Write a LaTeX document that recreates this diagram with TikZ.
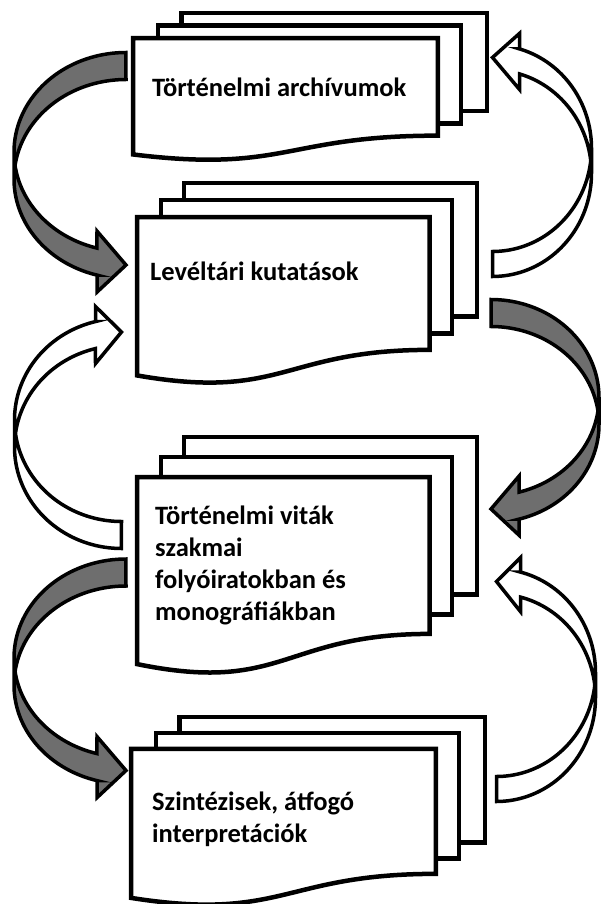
\documentclass[tikz,border=0pt]{standalone}
\usepackage{fontspec}
\setmainfont{Carlito}

% stack of three sheets: front sheet with a wavy lower edge
\newcommand{\multidoc}[4]{% #1,#2 top-left corner, #3 width, #4 height
  \begin{scope}[shift={(#1,#2)},xscale=#3,yscale=#4]
    \path[sheet] (0.13759,0) rectangle (1,0.66630);
    \path[sheet] (0.07093,0.08403) rectangle (0.92593,0.75241);
    \path[sheet] (0,0.96213) .. controls (0.43046,1.08991) and (0.43046,0.83435) .. (0.86088,0.83435)
      -- (0.86088,0.17014) -- (0,0.17014) -- cycle;
  \end{scope}}

% broad curved arrow: tail at top right, head at bottom right pointing right
\newcommand{\curvedarrow}[8]{% #1 centre, #2 flips, #3 width, #4 height, #5 band, #6 head width, #7 head length, #8 style
  \begin{scope}[shift={#1},#2]
    \pgfmathsetmacro\cvW{#3}
    \pgfmathsetmacro\cvH{#4}
    \pgfmathsetmacro\cvTH{#5}
    \pgfmathsetmacro\cvAW{#6}
    \pgfmathsetmacro\cvAH{#7}
    \pgfmathsetmacro\cvHR{\cvH/2-(\cvTH+\cvAW)/4}
    \pgfmathsetmacro\cvL{-\cvW/2}
    \pgfmathsetmacro\cvR{\cvW/2}
    \pgfmathsetmacro\cvT{-\cvH/2}
    \pgfmathsetmacro\cvTT{\cvT+\cvTH}
    \pgfmathsetmacro\cvCA{\cvT+\cvHR}
    \pgfmathsetmacro\cvCB{\cvT+\cvHR+\cvTH}
    \pgfmathsetmacro\cvTA{acos(-\cvAH/\cvW)}
    \pgfmathsetmacro\cvDY{\cvHR*sin(\cvTA)}
    \pgfmathsetmacro\cvXA{\cvR-\cvAH}
    \pgfmathsetmacro\cvYF{\cvCA+\cvDY}
    \pgfmathsetmacro\cvYG{\cvCB+\cvDY}
    \pgfmathsetmacro\cvDH{(\cvAW-\cvTH)/2}
    \pgfmathsetmacro\cvYU{\cvYF-\cvDH}
    \pgfmathsetmacro\cvYD{\cvYG+\cvDH}
    \pgfmathsetmacro\cvYT{\cvH/2-\cvAW/2}
    \pgfmathsetmacro\cvTI{180+asin(\cvTH/(2*\cvHR))}
    \path[#8]
      plot[domain=0:1,samples=40] ({\cvR+\cvW*cos(180+(\cvTA-180)*\x)},{\cvCA+\cvHR*sin(180+(\cvTA-180)*\x)})
      -- (\cvXA,\cvYU) -- (\cvR,\cvYT) -- (\cvXA,\cvYD) -- (\cvXA,\cvYG)
      -- plot[domain=0:1,samples=40] ({\cvR+\cvW*cos(\cvTA+(180-\cvTA)*\x)},{\cvCB+\cvHR*sin(\cvTA+(180-\cvTA)*\x)})
      -- (\cvL,\cvCA)
      -- plot[domain=0:1,samples=40] ({\cvR+\cvW*cos(180+90*\x)},{\cvCA+\cvHR*sin(180+90*\x)})
      -- (\cvR,\cvTT)
      -- plot[domain=0:1,samples=40] ({\cvR+\cvW*cos(270+(\cvTI-270)*\x)},{\cvCB+\cvHR*sin(270+(\cvTI-270)*\x)})
      -- cycle;
  \end{scope}}

\begin{document}
\begin{tikzpicture}[x=1pt,y=-1pt,
  sheet/.style={draw=black,fill=white,line width=4.5pt,line join=miter},
  grayband/.style={draw=black,fill=black!57,line width=3.5pt,line join=miter},
  whiteband/.style={draw=black,fill=white,line width=3.5pt,line join=miter},
  doctext/.style={anchor=base west,inner sep=0pt,align=left,
    font=\fontsize{26.5}{32}\selectfont\bfseries}]
  \useasboundingbox[fill=white] (0,0) rectangle (604,904);

  % document stacks
  \multidoc{133}{13}{354}{147}
  \multidoc{137}{183}{340}{200}
  \multidoc{137}{437}{340}{236}
  \multidoc{131}{717}{354}{188}

  % texts (anchor: baseline of the last line)
  \node[doctext] (t1) at (152,97) {Történelmi archívumok};
  \node[doctext] (t2) at (150,280) {Levéltári kutatások};
  \node[doctext] (t3) at (155,620) {Történelmi viták\\szakmai\\folyóiratokban és\\monográfiákban};
  \node[doctext] (t4) at (152,842) {Szintézisek, átfogó\\interpretációk};

  % forward arrows (grey)
  \curvedarrow{(70,174)}{}{112}{243}{27}{61}{29}{grayband}
  \curvedarrow{(545,419)}{xscale=-1}{108}{239}{27}{59}{28}{grayband}
  \curvedarrow{(70,680)}{}{112}{242}{27}{61}{29}{grayband}

  % backward arrows (white)
  \curvedarrow{(542,153)}{xscale=-1,yscale=-1}{99}{247}{25}{56}{27}{whiteband}
  \curvedarrow{(68,426)}{yscale=-1}{107}{245}{27}{57}{26}{whiteband}
  \curvedarrow{(546,678)}{xscale=-1,yscale=-1}{99}{247}{25}{54}{24}{whiteband}
\end{tikzpicture}
\end{document}
